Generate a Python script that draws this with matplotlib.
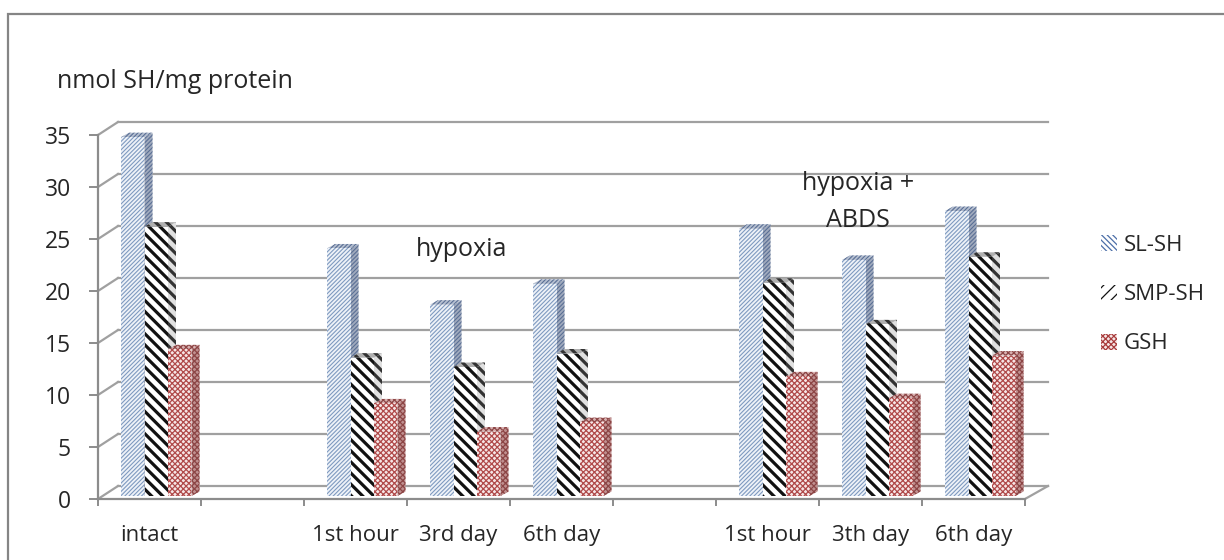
import numpy as np
from matplotlib import pyplot as plt
from matplotlib.patches import Patch, Polygon, Rectangle

plt.rcParams['font.family'] = ['Open Sans', 'DejaVu Sans']

categories = ['intact', '', '1st hour', '3rd day', '6th day', '', '1st hour', '3th day', '6th day']
sl_sh = [34.5, np.nan, 23.8, 18.4, 20.4, np.nan, 25.7, 22.7, 27.4]
smp_sh = [25.9, np.nan, 13.3, 12.4, 13.7, np.nan, 20.5, 16.5, 23.0]
gsh = [14.1, np.nan, 8.9, 6.2, 7.1, np.nan, 11.5, 9.4, 13.5]
y_ticks = [0, 5, 10, 15, 20, 25, 30, 35]

W, H = 1224, 560
GRAY = '#a0a0a0'
TEXT = '#262626'
fig = plt.figure(figsize=(W / 100, H / 100), dpi=100)
ax = fig.add_axes([98 / W, 1 - 499 / H, 927 / W, 364 / H])
ax.set_xlim(0, 9)
ax.set_ylim(0, 35)

# one category is 103 px wide, one y unit is 10.4 px
px_x = 1 / 103
px_y = 1 / 10.4

fig.add_artist(Rectangle((8 / W, -0.05), 1.1, 1.05 - 14 / H, transform=fig.transFigure,
                         fill=False, edgecolor='#858585', linewidth=1.6))

# back wall and the little diagonals on the left
back_x, back_y = 20 * px_x, 13 * px_y
for t in y_ticks:
    ax.plot([back_x, 9 + 23 * px_x], [t + back_y, t + back_y], color=GRAY, lw=1.6, clip_on=False, zorder=1)
    ax.plot([0, back_x], [t, t + back_y], color=GRAY, lw=1.6, clip_on=False, zorder=1)
ax.plot([9, 9 + 23 * px_x], [0, 13 * px_y], color=GRAY, lw=1.6, clip_on=False, zorder=1)


def draw_bars(values, slot, hatch, hatch_lw, front, side, top, hatch_col, side_hatch):
    plt.rcParams['hatch.linewidth'] = hatch_lw
    w = 23.5 * px_x
    dx, dy = 8 * px_x, 4.5 * px_y
    base = 3 * px_y
    z = 3 + slot
    for i, v in enumerate(values):
        if np.isnan(v):
            continue
        x = i + 23 * px_x + slot * w
        ax.add_patch(Polygon([(x + w, base), (x + w + dx, base + dy), (x + w + dx, v + base + dy), (x + w, v + base)],
                             facecolor=side, edgecolor=side_hatch, hatch=hatch, lw=0, zorder=z, clip_on=False))
        ax.add_patch(Polygon([(x, v + base), (x + dx, v + base + dy), (x + w + dx, v + base + dy), (x + w, v + base)],
                             facecolor=top, edgecolor=side_hatch, hatch=hatch, lw=0, zorder=z, clip_on=False))
        ax.bar(x, v, w, bottom=base, align='edge', color=front, edgecolor=hatch_col, hatch=hatch, lw=0,
               zorder=z, clip_on=False)


draw_bars(sl_sh, 0, '/' * 8, 0.8, '#eef2f8', '#a0aabd', '#b5bfd0', '#7f9ac0', '#5a6f95')
draw_bars(smp_sh, 1, '\\' * 3, 2.3, 'white', '#e0e0e0', '#b0b0b0', '#111111', '#333333')
draw_bars(gsh, 2, 'x' * 6, 0.9, '#f6e6e6', '#c09090', '#d8b0b0', '#b04a4a', '#8c4545')

for name in ['top', 'right']:
    ax.spines[name].set_visible(False)
for name in ['left', 'bottom']:
    ax.spines[name].set_color('#8c8c8c')
    ax.spines[name].set_linewidth(1.6)

ax.set_yticks(y_ticks)
ax.tick_params(axis='y', length=6.5, width=1.4, color='#8c8c8c', labelsize=16.5, labelcolor=TEXT, pad=13)
ax.set_xticks(np.arange(0, 10))
ax.set_xticklabels([])
ax.tick_params(axis='x', which='major', length=5, width=1.4, color='#8c8c8c')
ax.set_xticks(np.arange(9) + 0.5, minor=True)
ax.set_xticklabels(categories, minor=True)
ax.tick_params(axis='x', which='minor', length=0, labelsize=16, labelcolor=TEXT, pad=19)

fig.text(57 / W, 1 - 81 / H, 'nmol SH/mg protein', fontsize=18, color=TEXT, va='center', ha='left')
fig.text(462 / W, 1 - 249 / H, 'hypoxia', fontsize=18, color=TEXT, va='center', ha='center', zorder=10)
fig.text(858 / W, 1 - 202 / H, 'hypoxia +\nABDS', fontsize=18, color=TEXT, va='center', ha='center',
         linespacing=1.6, zorder=10)

plt.rcParams['hatch.linewidth'] = 0.8
h1 = Patch(facecolor='white', edgecolor='#4c6fa8', hatch='\\' * 6, lw=0, label='SL-SH')
plt.rcParams['hatch.linewidth'] = 3.2
h2 = Patch(facecolor='white', edgecolor='#111111', hatch='/' * 3, lw=0, label='SMP-SH')
plt.rcParams['hatch.linewidth'] = 0.9
h3 = Patch(facecolor='#f6e6e6', edgecolor='#a83c3c', hatch='x' * 6, lw=0, label='GSH')
fig.legend(handles=[h1, h2, h3], loc='upper left', bbox_to_anchor=(1101 / W, 1 - 235 / H), frameon=False,
           fontsize=16, labelcolor=TEXT, handlelength=0.72, handleheight=0.72, handletextpad=0.32,
           labelspacing=1.27, borderpad=0, borderaxespad=0)

fig.savefig('out.png', dpi=100)
